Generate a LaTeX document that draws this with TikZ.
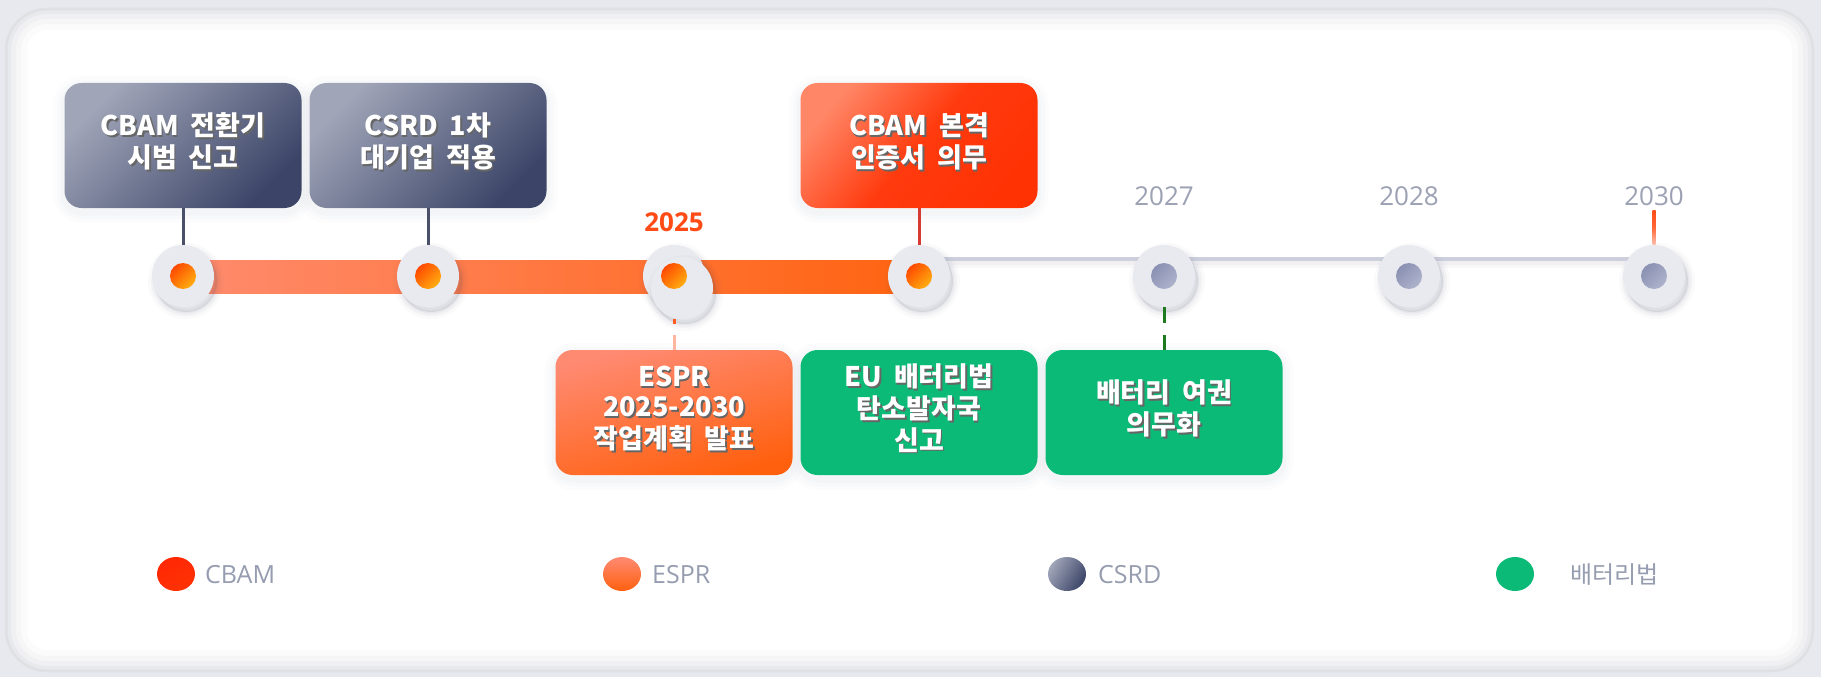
\documentclass[tikz,border=0pt]{standalone}
\usepackage{fontspec}
\setmainfont{Noto Sans CJK KR}
\newfontfamily\boxfont{Noto Sans CJK KR}[WordSpace=1.9]
\newfontfamily\latfont{Open Sans}
\usetikzlibrary{shapes.geometric}

\definecolor{bgc}{HTML}{E8E9EE}
\definecolor{gboxA}{HTML}{A0A5B8}
\definecolor{gboxB}{HTML}{3C4568}
\definecolor{rboxA}{HTML}{FF8666}
\definecolor{rboxB}{HTML}{FF3204}
\definecolor{eboxA}{HTML}{FF8A72}
\definecolor{eboxB}{HTML}{FF600E}
\definecolor{grn}{HTML}{0BBA76}
\definecolor{circC}{HTML}{E9EAF0}
\definecolor{dotA}{HTML}{FF4A00}
\definecolor{dotB}{HTML}{FFAE10}
\definecolor{gdotA}{HTML}{8A91B2}
\definecolor{gdotB}{HTML}{AEB3CC}
\definecolor{barA}{HTML}{FF8B6E}
\definecolor{barB}{HTML}{FF6412}
\definecolor{lineG}{HTML}{CDD0DC}
\definecolor{yearG}{HTML}{9CA1B3}
\definecolor{yearO}{HTML}{FF4C16}
\definecolor{connG}{HTML}{4A5068}
\definecolor{connR}{HTML}{D63A30}
\definecolor{connOd}{HTML}{FF5A22}
\definecolor{connOl}{HTML}{FFB6A0}
\definecolor{connGr}{HTML}{1E7A1E}
\definecolor{legT}{HTML}{979DB0}
\definecolor{shd}{HTML}{3A4060}

\newcommand\boxtext[1]{%
  \boxfont\fontsize{27}{30}\selectfont\bfseries
  \rlap{\kern1.6pt\raisebox{-1.6pt}{\color{black!60}\begin{tabular}{@{}c@{}}#1\end{tabular}}}%
  {\color{white}\begin{tabular}{@{}c@{}}#1\end{tabular}}}

\tikzset{
  boxshadow/.style={
    preaction={draw=shd, line width=22pt, draw opacity=0.010, transform canvas={yshift=-4pt}},
    preaction={draw=shd, line width=14pt, draw opacity=0.014, transform canvas={yshift=-4pt}},
    preaction={draw=shd, line width=7pt, draw opacity=0.02, transform canvas={yshift=-4pt}}},
  evbox/.style={rounded corners=17pt, minimum width=237pt, minimum height=125pt,
    inner sep=0pt, align=center, boxshadow},
  graybox/.style={evbox, top color=gboxA, bottom color=gboxB, shading angle=45},
  redbox/.style={evbox, top color=rboxA, bottom color=rboxB, middle color=rboxB!90!rboxA, shading angle=50},
  esprbox/.style={evbox, top color=eboxA, bottom color=eboxB, shading angle=15},
  grnbox/.style={evbox, fill=grn},
  circshadow/.style={
    preaction={draw=shd, line width=14pt, draw opacity=0.025, fill=shd, fill opacity=0.10, transform canvas={xshift=3pt, yshift=-5pt}},
    preaction={draw=shd, line width=8pt, draw opacity=0.04, transform canvas={xshift=3pt, yshift=-5pt}},
    preaction={draw=shd, line width=3pt, draw opacity=0.05, transform canvas={xshift=3pt, yshift=-5pt}}},
  circ/.style={circle, minimum size=62pt, inner sep=0pt, fill=circC, circshadow},
  odot/.style={circle, minimum size=26pt, inner sep=0pt, top color=dotA, bottom color=dotB, shading angle=45},
  gdot/.style={circle, minimum size=26pt, inner sep=0pt, top color=gdotA, bottom color=gdotB, shading angle=45},
  year/.style={font=\latfont\fontsize{26}{30}\selectfont, text=yearG, inner sep=0pt},
  conn/.style={line width=3pt},
  lgdot/.style={ellipse, minimum width=38pt, minimum height=34pt, inner sep=0pt},
  lgtext/.style={font=\latfont\fontsize{25}{28}\selectfont, text=legT, anchor=west, inner sep=0pt},
}

\begin{document}
\begin{tikzpicture}[x=1pt,y=-1pt]
\useasboundingbox (0,0) rectangle (1821,677);
\fill[bgc] (0,0) rectangle (1821,677);
% card with soft inner edge
\fill[white, rounded corners=42pt] (5,8) rectangle (1814,672);
\begin{scope}
  \clip[rounded corners=42pt] (5,8) rectangle (1814,672);
  \foreach \w/\o in {44/0.018, 32/0.022, 22/0.03, 12/0.04, 5/0.05}{
    \draw[draw=shd, line width=\w pt, draw opacity=\o, rounded corners=42pt] (5,8) rectangle (1814,672);
  }
\end{scope}

% timeline positions
\coordinate (p1) at (183,276);
\coordinate (p2) at (428,276);
\coordinate (p3) at (674,276);
\coordinate (p4) at (919,276);
\coordinate (p5) at (1164,276);
\coordinate (p6) at (1409,276);
\coordinate (p7) at (1654,276);

% gray line with soft shadow
\draw[line width=8pt, shd, opacity=0.035] (919,264) -- (1654,264);
\draw[line width=5pt, shd, opacity=0.04] (919,262) -- (1654,262);
\draw[line width=4pt, lineG] (919,259) -- (1654,259);

% orange bar
\fill[left color=barA, right color=barB] (183,260) rectangle (905,293);

% circles
\node[circ] (n1) at (p1) {};
\node[circ] (n2) at (p2) {};
\node[circ] (n3) at (p3) {};
\node[circ] (n3b) at (682,288) {};
\node[circ] (n4) at (p4) {};
\node[circ] (n5) at (p5) {};
\node[circ] (n6) at (p6) {};
\node[circ] (n7) at (p7) {};

\node[odot] (d1) at (p1) {};
\node[odot] (d2) at (p2) {};
\node[odot] (d3) at (p3) {};
\node[odot] (d4) at (p4) {};
\node[gdot] (d5) at (p5) {};
\node[gdot] (d6) at (p6) {};
\node[gdot] (d7) at (p7) {};

% year labels
\node[year, font=\latfont\bfseries\fontsize{26}{30}\selectfont, text=yearO] (y25) at (674,222) {2025};
\node[year] (y27) at (1164,196) {2027};
\node[year] (y28) at (1409,196) {2028};
\node[year] (y30) at (1654,196) {2030};
\coordinate (t30) at (1654,210);

% boxes
\node[graybox] (b1) at (183,145.5) {\boxtext{CBAM 전환기\\시범 신고}};
\node[graybox] (b2) at (428,145.5) {\boxtext{CSRD 1차\\대기업 적용}};
\node[redbox]  (b4) at (919,145.5) {\boxtext{CBAM 본격\\인증서 의무}};
\node[esprbox] (b3) at (674,412.5) {\boxtext{ESPR\\2025-2030\\작업계획 발표}};
\node[grnbox]  (b5) at (919,412.5) {\boxtext{EU 배터리법\\탄소발자국\\신고}};
\node[grnbox]  (b6) at (1164,412.5) {\boxtext{배터리 여권\\의무화}};

% connectors
\draw[conn, connG] (b1.south) -- (n1.north);
\draw[conn, connG] (b2.south) -- (n2.north);
\draw[conn, connR] (b4.south) -- (n4.north);
\path[top color=yearO, bottom color=yearO!35!white, middle color=yearO!85!white]
  ([xshift=-1.5pt]t30) rectangle ([xshift=1.5pt]n7.north);
\draw[conn, connOd, dash pattern=on 5pt off 100pt] (b3.north |- n3b.south) -- (b3.north);
\draw[conn, connOl, dash pattern=on 0pt off 16pt on 40pt] (b3.north |- n3b.south) -- (b3.north);
\draw[conn, connGr, dash pattern=on 16pt off 12pt on 30pt] (n5.south) -- (b6.north);

% legend
\node[lgdot, top color=rboxB!80!red, bottom color=rboxB, shading angle=30] (l1) at (176,574) {};
\node[lgtext] (lt1) at (205,575) {CBAM};
\node[lgdot, top color=eboxA, bottom color=eboxB] (l2) at (622,574) {};
\node[lgtext] (lt2) at (652,575) {ESPR};
\node[lgdot, top color=gboxA, bottom color=gboxB, shading angle=60] (l3) at (1067,574) {};
\node[lgtext] (lt3) at (1098,575) {CSRD};
\node[lgdot, fill=grn] (l4) at (1515,574) {};
\node[lgtext, font=\fontsize{24}{28}\selectfont] (lt4) at (1570,575) {배터리법};
\end{tikzpicture}
\end{document}
